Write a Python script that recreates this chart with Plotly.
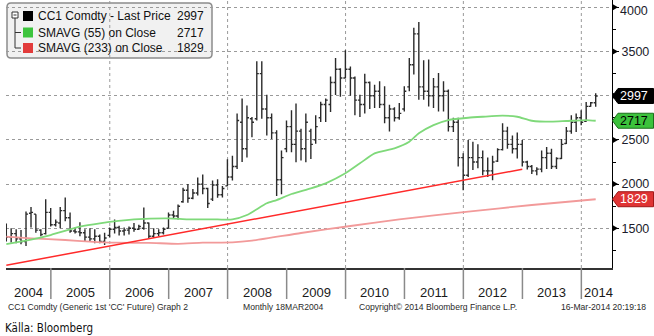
import pandas as pd
import plotly.graph_objects as go

# ---------------- data ----------------
months = pd.date_range("2004-03-31", periods=121, freq="ME")

open_ = [1540, 1400, 1440, 1380, 1350, 1670, 1660, 1480, 1440, 1680,
         1540, 1560, 1700, 1620, 1470, 1460, 1450, 1400, 1380, 1410, 1350, 1420,
         1490, 1510, 1470, 1480, 1500, 1490, 1500, 1560, 1410, 1440, 1450, 1500,
         1650, 1640, 1800, 1930, 1840, 1900, 2000, 1950, 1830, 1990, 1880, 1980,
         2080, 2200, 2700, 2400, 2740, 2740, 3250, 2850, 2750, 2580, 2050, 2400,
         2650, 2450, 2600, 2400, 2600, 2500, 2750, 2900, 2900, 3150, 3300, 3200,
         3300, 3200, 2950, 2900, 3150, 3000, 3050, 2900, 2750, 2850, 2750, 2850,
         3100, 3350, 3700, 3100, 3050, 3000, 3100, 3000, 3050, 2650, 2700, 2300,
         2100, 2300, 2250, 2300, 2150, 2150, 2260, 2390, 2600, 2450, 2400, 2450,
         2250, 2200, 2150, 2170, 2300, 2350, 2200, 2290, 2460, 2600, 2700, 2750,
         2710, 2880, 2920]
high = [1555, 1500, 1490, 1480, 1690, 1740, 1660, 1490, 1830, 1730,
        1600, 1740, 1850, 1680, 1510, 1570, 1490, 1500, 1490, 1430, 1450, 1510,
        1600, 1530, 1510, 1520, 1560, 1540, 1735, 1565, 1500, 1490, 1510, 1680,
        1700, 1770, 1960, 2000, 1945, 2075, 2110, 1960, 2040, 2056, 1980, 2280,
        2320, 2800, 2970, 2890, 2760, 3390, 3390, 3010, 2800, 2610, 2380, 2720,
        2836, 2912, 2627, 2798, 2627, 2779, 2932, 2970, 3217, 3426, 3312, 3514,
        3330, 3217, 3011, 3250, 3160, 3125, 3163, 3106, 2898, 2870, 2917, 3106,
        3428, 3769, 3834, 3400, 3409, 3200, 3258, 3163, 3070, 2750, 2750, 2350,
        2500, 2480, 2450, 2380, 2300, 2320, 2405, 2690, 2650, 2550, 2585, 2500,
        2265, 2215, 2190, 2380, 2420, 2400, 2305, 2510, 2645, 2780, 2800, 2835,
        2930, 2930, 3027]
low = [1350, 1340, 1330, 1320, 1300, 1510, 1450, 1410, 1430, 1520,
       1520, 1500, 1580, 1450, 1440, 1410, 1350, 1350, 1330, 1330, 1310, 1400,
       1440, 1420, 1420, 1430, 1460, 1480, 1485, 1390, 1390, 1410, 1430, 1500,
       1610, 1600, 1790, 1790, 1830, 1870, 1885, 1730, 1810, 1846, 1850, 1975,
       2040, 2170, 2250, 2300, 2530, 2720, 2740, 2550, 2510, 1866, 1885, 2360,
       2361, 2247, 2266, 2247, 2285, 2456, 2703, 2703, 2817, 3008, 2989, 3198,
       3000, 2779, 2760, 2800, 2850, 2860, 2860, 2689, 2594, 2708, 2727, 2822,
       3050, 3239, 2955, 2955, 2879, 2860, 2822, 2822, 2594, 2590, 2200, 1930,
       2080, 2160, 2180, 2100, 2080, 2045, 2250, 2380, 2400, 2345, 2290, 2200,
       2165, 2115, 2100, 2135, 2170, 2170, 2170, 2285, 2455, 2570, 2590, 2665,
       2705, 2875, 2875]
close = [1400, 1440, 1380, 1350, 1660, 1680, 1480, 1430, 1680, 1540,
         1570, 1700, 1620, 1470, 1460, 1450, 1400, 1380, 1410, 1350, 1390, 1490,
         1510, 1470, 1480, 1500, 1490, 1520, 1560, 1410, 1440, 1450, 1490, 1650,
         1640, 1750, 1930, 1840, 1900, 2000, 1950, 1780, 1990, 1880, 1950, 2080,
         2200, 2720, 2400, 2750, 2700, 3250, 2850, 2750, 2580, 2050, 2300, 2650,
         2450, 2600, 2400, 2700, 2450, 2650, 2900, 2950, 3150, 3300, 3200, 3300,
         3200, 2950, 2900, 3150, 3000, 3050, 2900, 2750, 2850, 2750, 2800, 3050,
         3350, 3700, 3100, 3050, 3000, 3100, 3000, 3050, 2650, 2700, 2300, 2100,
         2300, 2250, 2300, 2150, 2150, 2250, 2390, 2600, 2450, 2400, 2450, 2250,
         2200, 2150, 2170, 2300, 2350, 2200, 2290, 2450, 2600, 2700, 2750, 2700,
         2880, 2920, 2997]

sma55_months = ["2004-03", "2004-07", "2004-12", "2005-06", "2005-10", "2006-05",
                "2006-12", "2007-04", "2007-10", "2008-01", "2008-04", "2008-08",
                "2008-10", "2009-01", "2009-05", "2009-08", "2009-12", "2010-03",
                "2010-06", "2010-10", "2011-01", "2011-03", "2011-06", "2011-09",
                "2012-01", "2012-04", "2012-08", "2012-11", "2013-02", "2013-06",
                "2013-09", "2014-01", "2014-03"]
sma55_vals = [1320, 1360, 1424, 1518, 1556, 1600, 1613, 1602, 1600, 1600, 1650,
              1783, 1820, 1888, 1952, 2009, 2122, 2235, 2348, 2405, 2480, 2575,
              2668, 2725, 2751, 2762, 2774, 2762, 2717, 2706, 2714, 2725, 2717]

sma233_months = ["2004-03", "2004-08", "2005-03", "2005-08", "2006-01", "2006-08",
                 "2007-02", "2007-07", "2008-01", "2008-05", "2009-03", "2010-01",
                 "2010-11", "2012-01", "2013-02", "2014-03"]
sma233_vals = [1405, 1387, 1368, 1349, 1337, 1335, 1325, 1337, 1340, 1360, 1447,
               1526, 1602, 1688, 1764, 1829]

trend_months = ["2004-03", "2012-12"]
trend_vals = [1082, 2168]

legend_names = ["CC1 Comdty - Last Price", "SMAVG (55) on Close", "SMAVG (233) on Close"]
legend_values = ["2997", "2717", "1829"]
last_values = [2997, 2717, 1829]

years = [str(y) for y in range(2004, 2015)]
year_bounds = ["%d-01-01" % y for y in range(2005, 2015)]
grid_years = ["2006-01-01", "2008-01-01", "2010-01-01", "2012-01-01", "2014-01-01"]

ytick_vals = [1500, 2000, 2500, 3000, 3500, 4000]
ytick_text = ["1500", "2000", "2500", "", "3500", ""]

footer_left = "CC1 Comdty (Generic 1st 'CC' Future) Graph 2"
footer_mid = "Monthly 18MAR2004"
footer_copy = "Copyright\u00a9 2014 Bloomberg Finance L.P."
footer_date = "16-Mar-2014 20:19:18"
source_text = "K\u00e4lla: Bloomberg"

# ---------------- layout geometry ----------------
W, H = 654, 336
PL, PR, PT, PB = 6, 612, 0, 268
XR = ["2004-03-29", "2014-07-10"]
YR = [1051, 4083]
FONT = "Liberation Sans, Arial, sans-serif"


def px(x):
    return (x - PL) / (PR - PL)


def py(y):
    return (PB - y) / (PB - PT)


def to_me(mlist):
    return pd.PeriodIndex(mlist, freq="M").to_timestamp(how="end").normalize()


fig = go.Figure()

fig.add_trace(go.Ohlc(
    x=months, open=open_, high=high, low=low, close=close,
    increasing=dict(line=dict(color="#2b2b2b", width=1.4)),
    decreasing=dict(line=dict(color="#2b2b2b", width=1.4)),
    tickwidth=0.45, hoverinfo="skip", showlegend=False))

fig.add_trace(go.Scatter(x=to_me(sma233_months), y=sma233_vals, mode="lines",
                         line=dict(color="#f29a9a", width=1.8, shape="spline", smoothing=0.6),
                         hoverinfo="skip", showlegend=False))
fig.add_trace(go.Scatter(x=to_me(sma55_months), y=sma55_vals, mode="lines",
                         line=dict(color="#7fd97a", width=1.8, shape="spline", smoothing=0.6),
                         hoverinfo="skip", showlegend=False))
fig.add_trace(go.Scatter(x=to_me(trend_months), y=trend_vals, mode="lines",
                         line=dict(color="#ff2a2a", width=1.5),
                         hoverinfo="skip", showlegend=False))

shapes = []
annotations = []

# legend box (rounded)
shapes.append(dict(type="path", layer="below", xref="paper", yref="paper",
                   xsizemode="pixel", ysizemode="pixel", xanchor=0, yanchor=1,
                   path="M 5 -3 L 202 -3 Q 206 -3 206 -7 L 206 -54 Q 206 -58 202 -58 "
                        "L 5 -58 Q 1 -58 1 -54 L 1 -7 Q 1 -3 5 -3 Z",
                   fillcolor="#f1f1f1", line=dict(color="#8c8c8c", width=1.5)))

# vertical dotted grid lines
for d in grid_years:
    shapes.append(dict(type="line", layer="below", xref="x", yref="paper",
                       x0=d, x1=d, y0=0, y1=1,
                       line=dict(color="#9a9a9a", width=1, dash="dot")))

# year separators below axis
for d in year_bounds:
    shapes.append(dict(type="line", xref="x", yref="paper", x0=d, x1=d,
                       y0=0, y1=py(299), line=dict(color="#8a8a8a", width=1.5)))

# legend tree icon
shapes.append(dict(type="rect", xref="paper", yref="paper", x0=px(12), x1=px(18),
                   y0=py(18), y1=py(12), line=dict(color="#333", width=1), fillcolor="white"))
shapes.append(dict(type="line", xref="paper", yref="paper", x0=px(13.5), x1=px(16.5),
                   y0=py(15), y1=py(15), line=dict(color="#333", width=1)))
shapes.append(dict(type="line", xref="paper", yref="paper", x0=px(15), x1=px(15),
                   y0=py(18), y1=py(48), line=dict(color="#333", width=1)))
for yy in (32.5, 48):
    shapes.append(dict(type="line", xref="paper", yref="paper", x0=px(15), x1=px(21),
                       y0=py(yy), y1=py(yy), line=dict(color="#333", width=1)))

leg_cols = ["#000000", "#3dc43d", "#e23b3b"]
leg_rows = [16, 32.5, 48]
for col, yc, name, val in zip(leg_cols, leg_rows, legend_names, legend_values):
    shapes.append(dict(type="rect", xref="paper", yref="paper", x0=px(23), x1=px(33),
                       y0=py(yc + 5), y1=py(yc - 5), line=dict(width=0), fillcolor=col))
    annotations.append(dict(xref="paper", yref="paper", x=px(36), y=py(yc), text=name,
                            showarrow=False, xanchor="left", yanchor="middle",
                            font=dict(family=FONT, size=12, color="#111")))
    annotations.append(dict(xref="paper", yref="paper", x=px(206), y=py(yc), text=val,
                            showarrow=False, xanchor="right", yanchor="middle",
                            font=dict(family=FONT, size=12, color="#111")))

# right-axis arrow ticks
for v in ytick_vals:
    shapes.append(dict(type="path", xref="paper", yref="y", xsizemode="pixel",
                       ysizemode="pixel", xanchor=1, yanchor=v,
                       path="M 0 3.5 L 6 0 L 0 -3.5 Z", fillcolor="#000",
                       line=dict(width=0)))
annotations.append(dict(xref="paper", yref="y", x=1, y=4000, xanchor="left",
                        yanchor="middle", xshift=6, yshift=-4, text="4000",
                        showarrow=False, font=dict(family=FONT, size=12.5, color="#1b1b2b")))

# price tags on the axis
tag_fill = ["#000000", "#3cc23c", "#e03434"]
tag_line = ["#000000", "#1d6e1d", "#a01818"]
tag_font = ["#ffffff", "#000000", "#ffffff"]
for v, fc, lc, tc in zip(last_values, tag_fill, tag_line, tag_font):
    shapes.append(dict(type="path", xref="paper", yref="y", xsizemode="pixel",
                       ysizemode="pixel", xanchor=1, yanchor=v,
                       path="M 0.5 0 L 6 7.5 L 41.5 7.5 L 41.5 -7.5 L 6 -7.5 Z",
                       fillcolor=fc, line=dict(color=lc, width=1)))
    annotations.append(dict(xref="paper", yref="y", x=1, y=v, xanchor="left",
                            yanchor="middle", xshift=6, text=str(v), showarrow=False,
                            font=dict(family=FONT, size=12.5, color=tc)))

# year labels
year_centers = ["2004-08-15", "2005-07-02", "2006-07-02", "2007-07-02", "2008-07-02",
                "2009-07-02", "2010-07-02", "2011-07-02", "2012-07-02", "2013-07-02",
                "2014-04-15"]
for yl, xc in zip(years, year_centers):
    annotations.append(dict(xref="x", yref="paper", x=xc, y=py(292), text=yl,
                            showarrow=False, xanchor="center", yanchor="middle",
                            font=dict(family=FONT, size=13, color="#1a1a1a")))

# footer
small = dict(family=FONT, size=8.6, color="#2a2a2a")
annotations += [
    dict(xref="paper", yref="paper", x=px(6), y=py(307), text=footer_left,
         xanchor="left", yanchor="middle", showarrow=False, font=small),
    dict(xref="paper", yref="paper", x=px(241), y=py(307), text=footer_mid,
         xanchor="left", yanchor="middle", showarrow=False, font=small),
    dict(xref="paper", yref="paper", x=px(357), y=py(307), text=footer_copy,
         xanchor="left", yanchor="middle", showarrow=False, font=small),
    dict(xref="paper", yref="paper", x=px(648), y=py(307), text=footer_date,
         xanchor="right", yanchor="middle", showarrow=False, font=small),
    dict(xref="paper", yref="paper", x=px(3), y=py(328), text=source_text,
         xanchor="left", yanchor="middle", showarrow=False,
         font=dict(family="Liberation Sans Narrow, DejaVu Sans Condensed, Arial Narrow, sans-serif",
                   size=11.5, color="#111")),
]

fig.update_layout(
    width=W, height=H,
    margin=dict(l=PL, r=W - PR, t=PT, b=H - PB, pad=0),
    paper_bgcolor="white", plot_bgcolor="white",
    showlegend=False,
    shapes=shapes, annotations=annotations,
    xaxis=dict(type="date", range=XR, showgrid=False, showticklabels=False,
               ticks="", showline=True, linecolor="#333", linewidth=1.5,
               zeroline=False, rangeslider=dict(visible=False), fixedrange=True),
    yaxis=dict(side="right", range=YR, tickvals=ytick_vals, ticktext=ytick_text,
               showgrid=True, gridcolor="#9a9a9a", griddash="dot", gridwidth=1,
               showline=True, linecolor="#000", linewidth=1, ticks="outside",
               ticklen=6, tickcolor="#000", zeroline=False,
               minor=dict(dtick=250, tick0=1250, ticks="outside", ticklen=3,
                          tickcolor="#000", showgrid=False),
               tickfont=dict(family=FONT, size=12.5, color="#1b1b2b"), fixedrange=True),
)

fig.write_html("out.html")
